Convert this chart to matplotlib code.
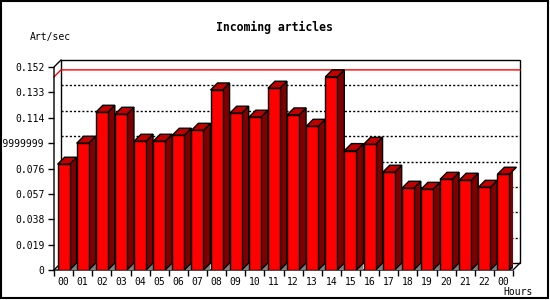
import matplotlib
matplotlib.use('Agg')
import matplotlib.pyplot as plt
from matplotlib.patches import Polygon, Rectangle
from matplotlib.lines import Line2D

plt.rcParams['font.family'] = ['DejaVu Sans Mono']

hours = ['00', '01', '02', '03', '04', '05', '06', '07', '08', '09', '10', '11',
         '12', '13', '14', '15', '16', '17', '18', '19', '20', '21', '22', '00']
rates = [0.0792, 0.0949, 0.1181, 0.1166, 0.0964, 0.0964, 0.1009, 0.1046,
         0.1348, 0.1174, 0.1144, 0.1361, 0.1161, 0.1076, 0.1446, 0.0894,
         0.0941, 0.0732, 0.0612, 0.0604, 0.0679, 0.0672, 0.0619, 0.0717]
ytick_vals = [0, 0.019, 0.038, 0.057, 0.076, 0.095, 0.114, 0.133, 0.152]
ytick_labels = ['0', '0.019', '0.038', '0.057', '0.076', '0.0949999999',
                '0.114', '0.133', '0.152']

W, H = 550, 300
fig = plt.figure(figsize=(W / 100, H / 100), dpi=100)

# front plane of the plot in pixels
left_px, right_px, top_px, bottom_px = 54, 513, 67, 270
ax = fig.add_axes([left_px / W, 1 - bottom_px / H,
                   (right_px - left_px) / W, (bottom_px - top_px) / H])
n = len(rates)
xmin, xmax = -0.5, n - 0.5
ymax = ytick_vals[-1]
ax.set_xlim(xmin, xmax)
ax.set_ylim(0, ymax)
ax.axis('on')
ax.patch.set_visible(False)
for s in ax.spines.values():
    s.set_visible(False)

# depth offset of the 3d look, 7 px each way
px_x = (xmax - xmin) / (right_px - left_px)
px_y = ymax / (bottom_px - top_px)
dx, dy = 7 * px_x, 7 * px_y

# back wall
ax.add_patch(Rectangle((xmin + dx, dy), xmax - xmin, ymax, facecolor='white',
                       edgecolor='black', lw=1, clip_on=False, zorder=0))
for v in ytick_vals[1:-1]:
    ax.plot([xmin + dx, xmax + dx], [v + dy, v + dy], color='black', lw=1,
            linestyle=(0, (1.5, 1.5)), clip_on=False, zorder=1)

# line at the peak value
peak = max(rates)
ax.plot([xmin, xmin + dx, xmax + dx], [peak, peak + dy, peak + dy],
        color='red', lw=1, clip_on=False, zorder=2)

# frame lines of the box
ax.plot([xmin, xmin, xmin + dx], [0, ymax, ymax + dy], color='black', lw=1,
        clip_on=False, zorder=2)
ax.plot([xmin, xmax, xmax + dx], [0, 0, dy], color='black', lw=1,
        clip_on=False, zorder=2)
ax.plot([xmin, xmin + dx], [0, dy], color='black', lw=1, clip_on=False, zorder=2)

bw = 12 * px_x
for i, v in enumerate(rates):
    x0, x1 = i - bw / 2, i + bw / 2
    # floor shadow
    ax.add_patch(Polygon([(x1, 0), (x1 + dx, 0), (x1 + dx, dy)], closed=True,
                         facecolor='#808080', edgecolor='none', zorder=3))
    # side face
    ax.add_patch(Polygon([(x1, 0), (x1 + dx, dy), (x1 + dx, v + dy), (x1, v)],
                         closed=True, facecolor='#800000', edgecolor='black',
                         lw=1, zorder=3))
    # top face
    ax.add_patch(Polygon([(x0, v), (x0 + dx, v + dy), (x1 + dx, v + dy), (x1, v)],
                         closed=True, facecolor='#c00000', edgecolor='black',
                         lw=1, zorder=4, clip_on=False))
ax.bar(range(n), rates, width=bw, color='#ff0000', edgecolor='black', lw=1,
       zorder=5)

ax.set_yticks(ytick_vals)
ax.set_yticklabels(ytick_labels)
ax.tick_params(axis='y', length=4, width=1, pad=3, labelsize=7)
ax.set_xticks([xmin + k for k in range(n + 1)])
ax.set_xticklabels([])
ax.set_xticks(range(n), minor=True)
ax.set_xticklabels(hours, minor=True)
ax.tick_params(axis='x', which='major', length=4, width=1)
ax.tick_params(axis='x', which='minor', length=0, pad=5, labelsize=7)

fig.text(274 / W, 1 - 27 / H, 'Incoming articles', ha='center', va='center',
         fontsize=8.3, fontweight='bold')
fig.text(30 / W, 1 - 37 / H, 'Art/sec', ha='left', va='center', fontsize=7)
fig.text(533 / W, 1 - 292 / H, 'Hours', ha='right', va='center', fontsize=7)

# outer frame
fig.add_artist(Rectangle((0.5 / W, 2 / H), 547.5 / W, 297.5 / H,
                         transform=fig.transFigure, fill=False,
                         edgecolor='black', lw=1.5))

fig.savefig('out.png', dpi=100)
